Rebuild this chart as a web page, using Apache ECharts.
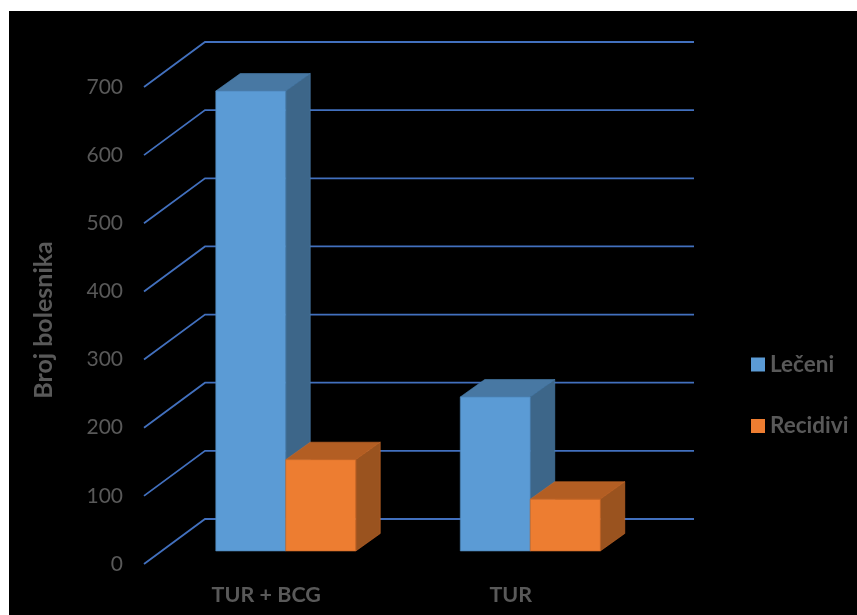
<!DOCTYPE html>
<html><head><meta charset="utf-8">
<style>html,body{margin:0;padding:0;background:#fff}#c{width:857px;height:615px}</style>
<script src="https://cdn.jsdelivr.net/npm/echarts@6/dist/echarts.min.js"></script>
</head><body><div id="c"></div>
<script>
const categories = ['TUR + BCG', 'TUR'];
const leceni = [675, 226];
const recidivi = [134, 76];
const ticks = [0, 100, 200, 300, 400, 500, 600, 700];
const BACK = [61, -45], SHIFT = [19.5, -13], DEPTH = [24.5, -17.5], BAR_W = 70;
const FONT = 'Lato';
const TXT = '#595959';

function wall(params, api) {
  const p = api.coord([0, api.value(1)]);
  const c = params.coordSys;
  return {
    type: 'polyline',
    shape: { points: [[c.x, p[1]], [c.x + BACK[0], p[1] + BACK[1]], [c.x + c.width + BACK[0], p[1] + BACK[1]]] },
    style: { stroke: '#4270BE', lineWidth: 1.8, fill: null }
  };
}
function bar3d(side, colors) {
  return function (params, api) {
    const top = api.coord([api.value(0), api.value(1)]);
    const base = api.coord([api.value(0), 0]);
    const x0 = top[0] + SHIFT[0] + (side < 0 ? -BAR_W : 0);
    const x1 = x0 + BAR_W;
    const yt = top[1] + SHIFT[1], yb = base[1] + SHIFT[1];
    const dx = DEPTH[0], dy = DEPTH[1];
    const poly = (pts, fill) => ({ type: 'polygon', shape: { points: pts }, style: { fill: fill, stroke: colors[3], lineWidth: 0.6 } });
    return {
      type: 'group',
      children: [
        poly([[x0, yt], [x0 + dx, yt + dy], [x1 + dx, yt + dy], [x1, yt]], colors[1]),
        poly([[x1, yt], [x1 + dx, yt + dy], [x1 + dx, yb + dy], [x1, yb]], colors[2]),
        poly([[x0, yt], [x1, yt], [x1, yb], [x0, yb]], colors[0])
      ]
    };
  };
}
const blue = ['#5B9BD5', '#4878A3', '#3D6689', '#4A80B0'];
const orange = ['#ED7D31', '#B35E23', '#9A531F', '#C96A2A'];

const chart = echarts.init(document.getElementById('c'), null, { renderer: 'canvas' });
chart.setOption({
  animation: false,
  backgroundColor: '#fff',
  graphic: [{ type: 'rect', z: -10, silent: true, shape: { x: 9, y: 11, width: 848, height: 604 }, style: { fill: '#000' } }],
  grid: { left: 144, right: 224, top: 87, bottom: 51 },
  xAxis: {
    type: 'category', data: categories,
    axisLine: { show: false }, axisTick: { show: false },
    axisLabel: { color: TXT, fontFamily: FONT, fontWeight: 'bold', fontSize: 21.5, margin: 20 }
  },
  yAxis: {
    type: 'value', min: 0, max: 700, interval: 100,
    name: 'Broj bolesnika', nameLocation: 'middle', nameRotate: 90, nameGap: 88,
    nameTextStyle: { color: TXT, fontFamily: FONT, fontWeight: 'bold', fontSize: 25, padding: [0, 0, 0, 11] },
    axisLine: { show: false }, axisTick: { show: false }, splitLine: { show: false },
    axisLabel: { color: TXT, fontFamily: FONT, fontSize: 21, margin: 21 }
  },
  legend: {
    orient: 'vertical', left: 751, top: 353, padding: 0, itemWidth: 14, itemHeight: 14, itemGap: 38.5, icon: 'rect',
    data: [{ name: 'Lečeni', itemStyle: { color: blue[0] } }, { name: 'Recidivi', itemStyle: { color: orange[0] } }],
    textStyle: { color: TXT, fontFamily: FONT, fontWeight: 'bold', fontSize: 22.5 },
    itemStyle: { borderWidth: 0 }
  },
  series: [
    { name: 'walls', type: 'custom', silent: true, z: 1, renderItem: wall, data: ticks.map(t => [0, t]), encode: { x: 0, y: 1 } },
    { name: 'Lečeni', type: 'custom', z: 2, renderItem: bar3d(-1, blue), itemStyle: { color: blue[0] }, data: leceni.map((v, i) => [i, v]), encode: { x: 0, y: 1 } },
    { name: 'Recidivi', type: 'custom', z: 3, renderItem: bar3d(1, orange), itemStyle: { color: orange[0] }, data: recidivi.map((v, i) => [i, v]), encode: { x: 0, y: 1 } }
  ]
});
</script></body></html>
